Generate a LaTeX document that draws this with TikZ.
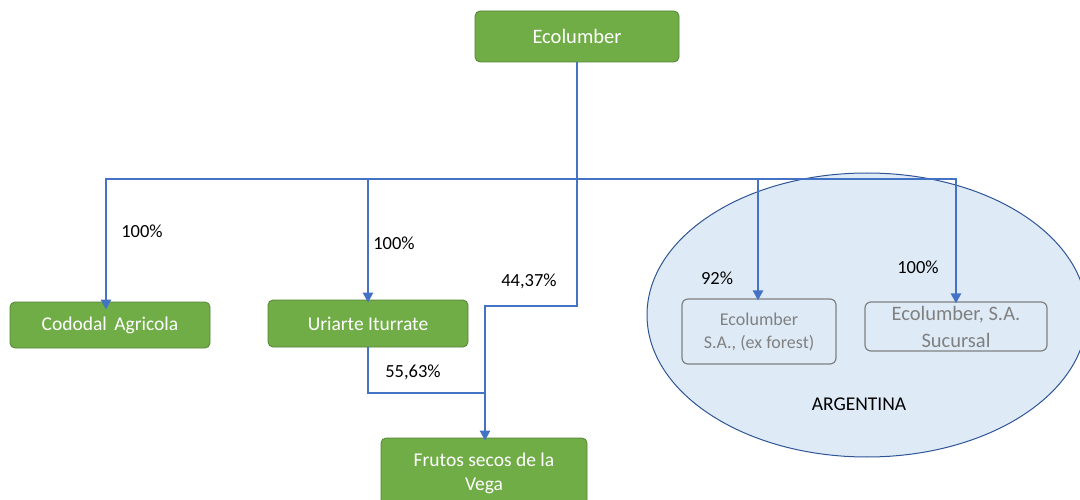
\documentclass[tikz,border=0pt]{standalone}
\usepackage{fontspec}
\setmainfont{Carlito}
\usetikzlibrary{arrows.meta,shapes.geometric}
\definecolor{grn}{HTML}{70AD47}
\definecolor{grnd}{HTML}{548235}
\definecolor{lnk}{HTML}{4472C4}
\definecolor{ellf}{HTML}{DEEBF7}
\definecolor{elld}{HTML}{2F5597}
\definecolor{gtx}{HTML}{808080}
\tikzset{
  gbox/.style={draw=grnd, line width=0.8pt, fill=grn, rounded corners=5pt, text=white, align=center, inner sep=0pt, font=\fontsize{19.5}{24}\selectfont},
  abox/.style={draw=gtx, line width=1.2pt, rounded corners=6pt, text=gtx, align=center, inner sep=0pt},
  conn/.style={draw=lnk, line width=2.6pt},
  arr/.style={conn, -{Triangle[length=10pt,width=10pt]}},
  pct/.style={font=\fontsize{18.5}{22}\selectfont, inner sep=0pt}
}
\begin{document}
\begin{tikzpicture}[x=1pt,y=-1pt]
\useasboundingbox (0,0) rectangle (1080,500);
% ellipse
\node[draw=elld, line width=1pt, fill=ellf, ellipse, minimum width=440pt, minimum height=284pt, inner sep=0pt] (arg) at (867,315) {};
\node[font=\fontsize{19.5}{22}\selectfont] (argl) at (859,404) {ARGENTINA};
% boxes
\node[gbox, minimum width=204pt, minimum height=51pt, font=\fontsize{20.5}{24}\selectfont] (eco) at (577,36.5) {Ecolumber};
\node[gbox, minimum width=200pt, minimum height=46pt] (cod) at (110,325) {Cododal\hspace{3pt} Agricola};
\node[gbox, minimum width=200pt, minimum height=47pt] (uri) at (368,323.5) {Uriarte Iturrate};
\node[gbox, minimum width=206pt, minimum height=70pt] (fru) at (484,473) {Frutos secos de la\\Vega};
\node[abox, minimum width=154pt, minimum height=65pt, font=\fontsize{18}{23}\selectfont] (ar1) at (759,331.5) {Ecolumber\\S.A., (ex forest)};
\node[abox, minimum width=182pt, minimum height=49pt, font=\fontsize{20.5}{27}\selectfont] (ar2) at (956,326.5) {Ecolumber, S.A.\\Sucursal};
% connectors
\coordinate (hub) at (577,179);
\coordinate (bend) at (577,306);
\coordinate (join) at (485,393);
\draw[conn] (eco.south) -- (hub);
\draw[arr] (hub) -| ([xshift=-4pt,yshift=-8pt]cod.north);
\draw[arr] (hub) -| ([yshift=-3pt]uri.north);
\draw[arr] (hub) -| ([xshift=-1pt,yshift=-2pt]ar1.north);
\draw[arr] (hub) -| ([yshift=-2pt]ar2.north);
\draw[arr] (hub) -- (bend) -| ([xshift=1pt,yshift=-3pt]fru.north);
\draw[conn] (uri.south) |- (join);
% labels
\node[pct] (l1) at (142,231) {100\%};
\node[pct] (l2) at (394,243) {100\%};
\node[pct] (l3) at (529,281) {44,37\%};
\node[pct] (l4) at (413,372) {55,63\%};
\node[pct] (l5) at (717,278) {92\%};
\node[pct] (l6) at (918,267) {100\%};
\end{tikzpicture}
\end{document}
